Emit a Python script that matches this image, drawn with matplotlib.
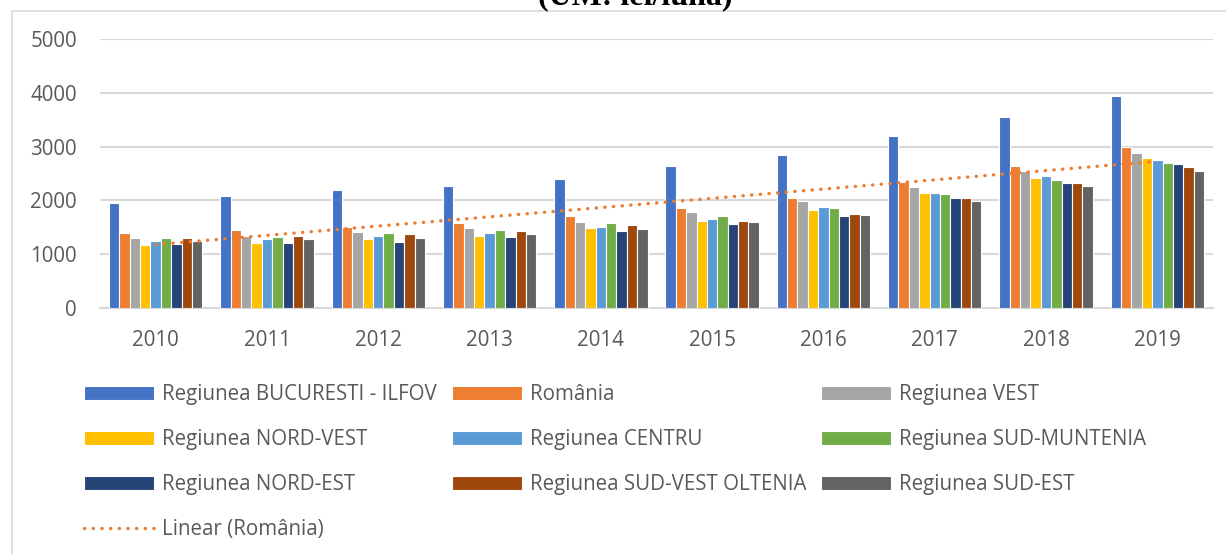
import numpy as np
import matplotlib
matplotlib.use("Agg")
import matplotlib.pyplot as plt
from matplotlib.patches import Rectangle

# values (lei/luna)
years = ["2010", "2011", "2012", "2013", "2014",
         "2015", "2016", "2017", "2018", "2019"]
bucuresti_ilfov = [1950, 2086, 2185, 2259, 2397, 2644, 2849, 3190, 3553, 3948]
romania = [1391, 1444, 1507, 1579, 1697, 1859, 2046, 2342, 2642, 2985]
vest = [1298, 1328, 1415, 1484, 1602, 1782, 1980, 2240, 2548, 2875]
nord_vest = [1173, 1205, 1279, 1335, 1477, 1614, 1825, 2136, 2418, 2782]
centru = [1248, 1279, 1328, 1391, 1503, 1652, 1868, 2142, 2445, 2750]
sud_muntenia = [1298, 1316, 1391, 1453, 1577, 1700, 1856, 2123, 2370, 2690]
nord_est = [1192, 1198, 1229, 1316, 1434, 1559, 1713, 2036, 2315, 2670]
sud_vest_oltenia = [1298, 1328, 1372, 1428, 1533, 1620, 1750, 2036, 2315, 2626]
sud_est = [1235, 1279, 1303, 1372, 1471, 1596, 1726, 1987, 2259, 2548]

labels = ["Regiunea BUCURESTI - ILFOV", "România", "Regiunea VEST",
          "Regiunea NORD-VEST", "Regiunea CENTRU", "Regiunea SUD-MUNTENIA",
          "Regiunea NORD-EST", "Regiunea SUD-VEST OLTENIA", "Regiunea SUD-EST"]
colors = ["#4472C4", "#ED7D31", "#A5A5A5", "#FFC000", "#5B9BD5",
          "#70AD47", "#264478", "#9E480E", "#636363"]
series = [bucuresti_ilfov, romania, vest, nord_vest, centru,
          sud_muntenia, nord_est, sud_vest_oltenia, sud_est]

W, H = 1226, 554
text_color = "#595959"
grid_color = "#D9D9D9"

plt.rcParams['font.family'] = ['Open Sans', 'DejaVu Sans']
plt.rcParams['font.size'] = 14.8

fig = plt.figure(figsize=(W / 100, H / 100), dpi=100)
ax = fig.add_axes([100 / W, 1 - 307.5 / H, 1113 / W, (307.5 - 39.3) / H])

x = np.arange(len(years))
slot = 0.0933
handles = []
for i, (vals, lab, col) in enumerate(zip(series, labels, colors)):
    b = ax.bar(x + (i - 4) * slot, vals, width=slot, color=col,
               edgecolor="white", linewidth=0.8, label=lab, zorder=3)
    handles.append(b)

# linear trendline of the Romania series
coef = np.polyfit(x, romania, 1)
xt = np.array([x[0], x[-1]])
trend, = ax.plot(xt, np.polyval(coef, xt), color="#ED7D31", lw=2.4,
                 linestyle=(0, (0.1, 2.5)), dash_capstyle="round",
                 zorder=4, label="Linear (România)")
handles.append(trend)

ax.set_xlim(-0.5, len(years) - 0.5)
ax.set_ylim(0, 5000)
ax.set_yticks(range(0, 5001, 1000))
ax.set_xticks(x)
ax.set_xticklabels(years)
ax.tick_params(axis="both", length=0, colors=text_color)
ax.tick_params(axis="x", pad=16)
ax.tick_params(axis="y", pad=16.5)
ax.yaxis.grid(True, color=grid_color, lw=1.5, zorder=0)
ax.set_axisbelow(True)
for s in ["top", "right", "left"]:
    ax.spines[s].set_visible(False)
ax.spines["bottom"].set_color(grid_color)
ax.spines["bottom"].set_linewidth(1.5)

# excel fills legend row by row, matplotlib column by column
order = [0, 3, 6, 9, 1, 4, 7, 2, 5, 8]
leg = fig.legend([handles[i] for i in order],
                 [handles[i].get_label() for i in order],
                 ncol=3, loc="upper left",
                 bbox_to_anchor=(74 / W, 1 - 374 / H),
                 frameon=False, borderpad=0, handlelength=3.4,
                 handleheight=0.68, handletextpad=0.39,
                 columnspacing=0.72, labelspacing=1.16,
                 labelcolor=text_color)

# chart border
fig.patches.append(Rectangle((12 / W, -0.1), 1.2, 1 - 10.7 / H + 0.1,
                             transform=fig.transFigure, fill=False,
                             edgecolor=grid_color, lw=1.2))

fig.text(635 / W, 1 - 4 / H, "(UM: lei/lună)", ha="center", va="baseline",
         fontfamily="Liberation Serif", fontweight="bold", fontsize=23)

fig.savefig("out.png", dpi=100)
